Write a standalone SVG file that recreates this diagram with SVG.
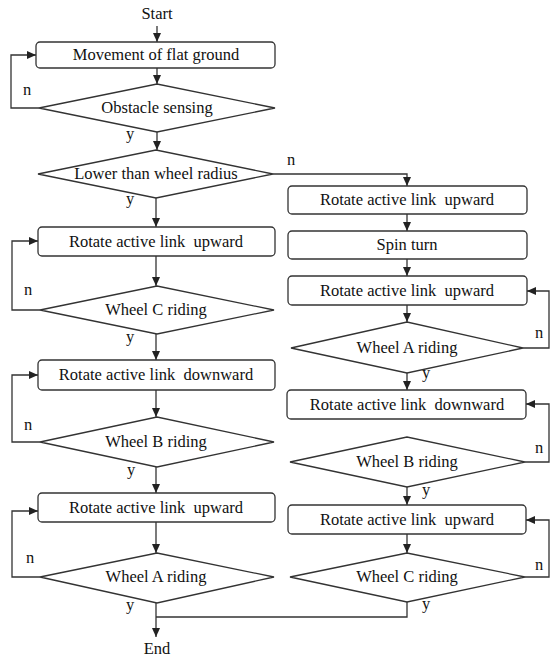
<svg xmlns="http://www.w3.org/2000/svg" width="553" height="657" viewBox="0 0 553 657">
<style>
.b{fill:#fff;stroke:#333;stroke-width:1.3}
.c{fill:none;stroke:#333;stroke-width:1.3}
text{font-family:"Liberation Serif","Times New Roman",serif;font-size:16.5px;fill:#111;text-anchor:middle}
</style>
<defs>
<marker id="ar" viewBox="0 0 9 8" refX="9" refY="4" markerWidth="9" markerHeight="8" markerUnits="userSpaceOnUse" orient="auto"><path d="M0,0 L9,4 L0,8 z" fill="#222"/></marker>
</defs>
<rect width="553" height="657" fill="#fff"/>
<g id="connectors">
<path class="c" d="M157,26 V42" marker-end="url(#ar)"/>
<path class="c" d="M157,68 V84" marker-end="url(#ar)"/>
<path class="c" d="M39,108 H11 V55 H36" marker-end="url(#ar)"/>
<path class="c" d="M157,132 V150" marker-end="url(#ar)"/>
<path class="c" d="M273,174 H407 V186" marker-end="url(#ar)"/>
<path class="c" d="M156,198 V227" marker-end="url(#ar)"/>
<path class="c" d="M156,256 V286" marker-end="url(#ar)"/>
<path class="c" d="M40,310 H12 V241 H38" marker-end="url(#ar)"/>
<path class="c" d="M156,334 V360" marker-end="url(#ar)"/>
<path class="c" d="M156,390 V417" marker-end="url(#ar)"/>
<path class="c" d="M40,442 H12 V375 H38" marker-end="url(#ar)"/>
<path class="c" d="M156,467 V493" marker-end="url(#ar)"/>
<path class="c" d="M156,522 V553" marker-end="url(#ar)"/>
<path class="c" d="M40,577 H12 V511 H38" marker-end="url(#ar)"/>
<path class="c" d="M156,603 V637" marker-end="url(#ar)"/>
<path class="c" d="M407,214 V231" marker-end="url(#ar)"/>
<path class="c" d="M407,259 V276" marker-end="url(#ar)"/>
<path class="c" d="M407,305 V322" marker-end="url(#ar)"/>
<path class="c" d="M523,348 H549 V291 H527" marker-end="url(#ar)"/>
<path class="c" d="M407,373 V390" marker-end="url(#ar)"/>
<path class="c" d="M525,462 H549 V404 H526" marker-end="url(#ar)"/>
<path class="c" d="M407,487 V505" marker-end="url(#ar)"/>
<path class="c" d="M407,534 V553" marker-end="url(#ar)"/>
<path class="c" d="M525,577 H549 V520 H526" marker-end="url(#ar)"/>
<path class="c" d="M407,602 V617 H156"/>
<text x="27" y="95">n</text>
<text x="130" y="139">y</text>
<text x="130" y="204">y</text>
<text x="291" y="165">n</text>
<text x="28" y="295">n</text>
<text x="130" y="342">y</text>
<text x="28" y="430">n</text>
<text x="131" y="475">y</text>
<text x="30" y="563">n</text>
<text x="130" y="610">y</text>
<text x="539" y="338">n</text>
<text x="426" y="378">y</text>
<text x="539" y="453">n</text>
<text x="426" y="495">y</text>
<text x="539" y="570">n</text>
<text x="426" y="609">y</text>
</g>
<g id="start"><text x="157" y="19">Start</text></g>
<g id="move"><rect class="b" x="36" y="42" width="239" height="26" rx="4"/><text x="156" y="60">Movement of flat ground</text></g>
<g id="obstacle"><polygon class="b" points="39,108 157,84 275,108 157,132"/><text x="157" y="113">Obstacle sensing</text></g>
<g id="lower"><polygon class="b" points="38,174 156,150 273,174 156,198"/><text x="156" y="179">Lower than wheel radius</text></g>
<g id="l-up1"><rect class="b" x="38" y="227" width="237" height="29" rx="4"/><text x="156" y="247" xml:space="preserve">Rotate active link  upward</text></g>
<g id="l-wc"><polygon class="b" points="40,310 157,286 274,310 157,334"/><text x="156" y="315">Wheel C riding</text></g>
<g id="l-down"><rect class="b" x="38" y="360" width="237" height="30" rx="4"/><text x="156" y="380" xml:space="preserve">Rotate active link  downward</text></g>
<g id="l-wb"><polygon class="b" points="40,442 157,417 274,442 157,467"/><text x="156" y="447">Wheel B riding</text></g>
<g id="l-up2"><rect class="b" x="38" y="493" width="237" height="29" rx="4"/><text x="156" y="513" xml:space="preserve">Rotate active link  upward</text></g>
<g id="l-wa"><polygon class="b" points="40,577 157,553 274,577 157,603"/><text x="156" y="582">Wheel A riding</text></g>
<g id="end"><text x="157" y="654">End</text></g>
<g id="r-up1"><rect class="b" x="288" y="186" width="239" height="28" rx="4"/><text x="407" y="205" xml:space="preserve">Rotate active link  upward</text></g>
<g id="r-spin"><rect class="b" x="288" y="231" width="239" height="28" rx="4"/><text x="407" y="250">Spin turn</text></g>
<g id="r-up2"><rect class="b" x="288" y="276" width="239" height="29" rx="4"/><text x="407" y="296" xml:space="preserve">Rotate active link  upward</text></g>
<g id="r-wa"><polygon class="b" points="291,348 407,322 523,348 407,373"/><text x="407" y="353">Wheel A riding</text></g>
<g id="r-down"><rect class="b" x="287" y="390" width="239" height="29" rx="4"/><text x="407" y="410" xml:space="preserve">Rotate active link  downward</text></g>
<g id="r-wb"><polygon class="b" points="290,462 407,437 525,462 407,487"/><text x="407" y="467">Wheel B riding</text></g>
<g id="r-up3"><rect class="b" x="288" y="505" width="238" height="29" rx="4"/><text x="407" y="525" xml:space="preserve">Rotate active link  upward</text></g>
<g id="r-wc"><polygon class="b" points="290,577 407,553 525,577 407,602"/><text x="407" y="582">Wheel C riding</text></g>
</svg>
